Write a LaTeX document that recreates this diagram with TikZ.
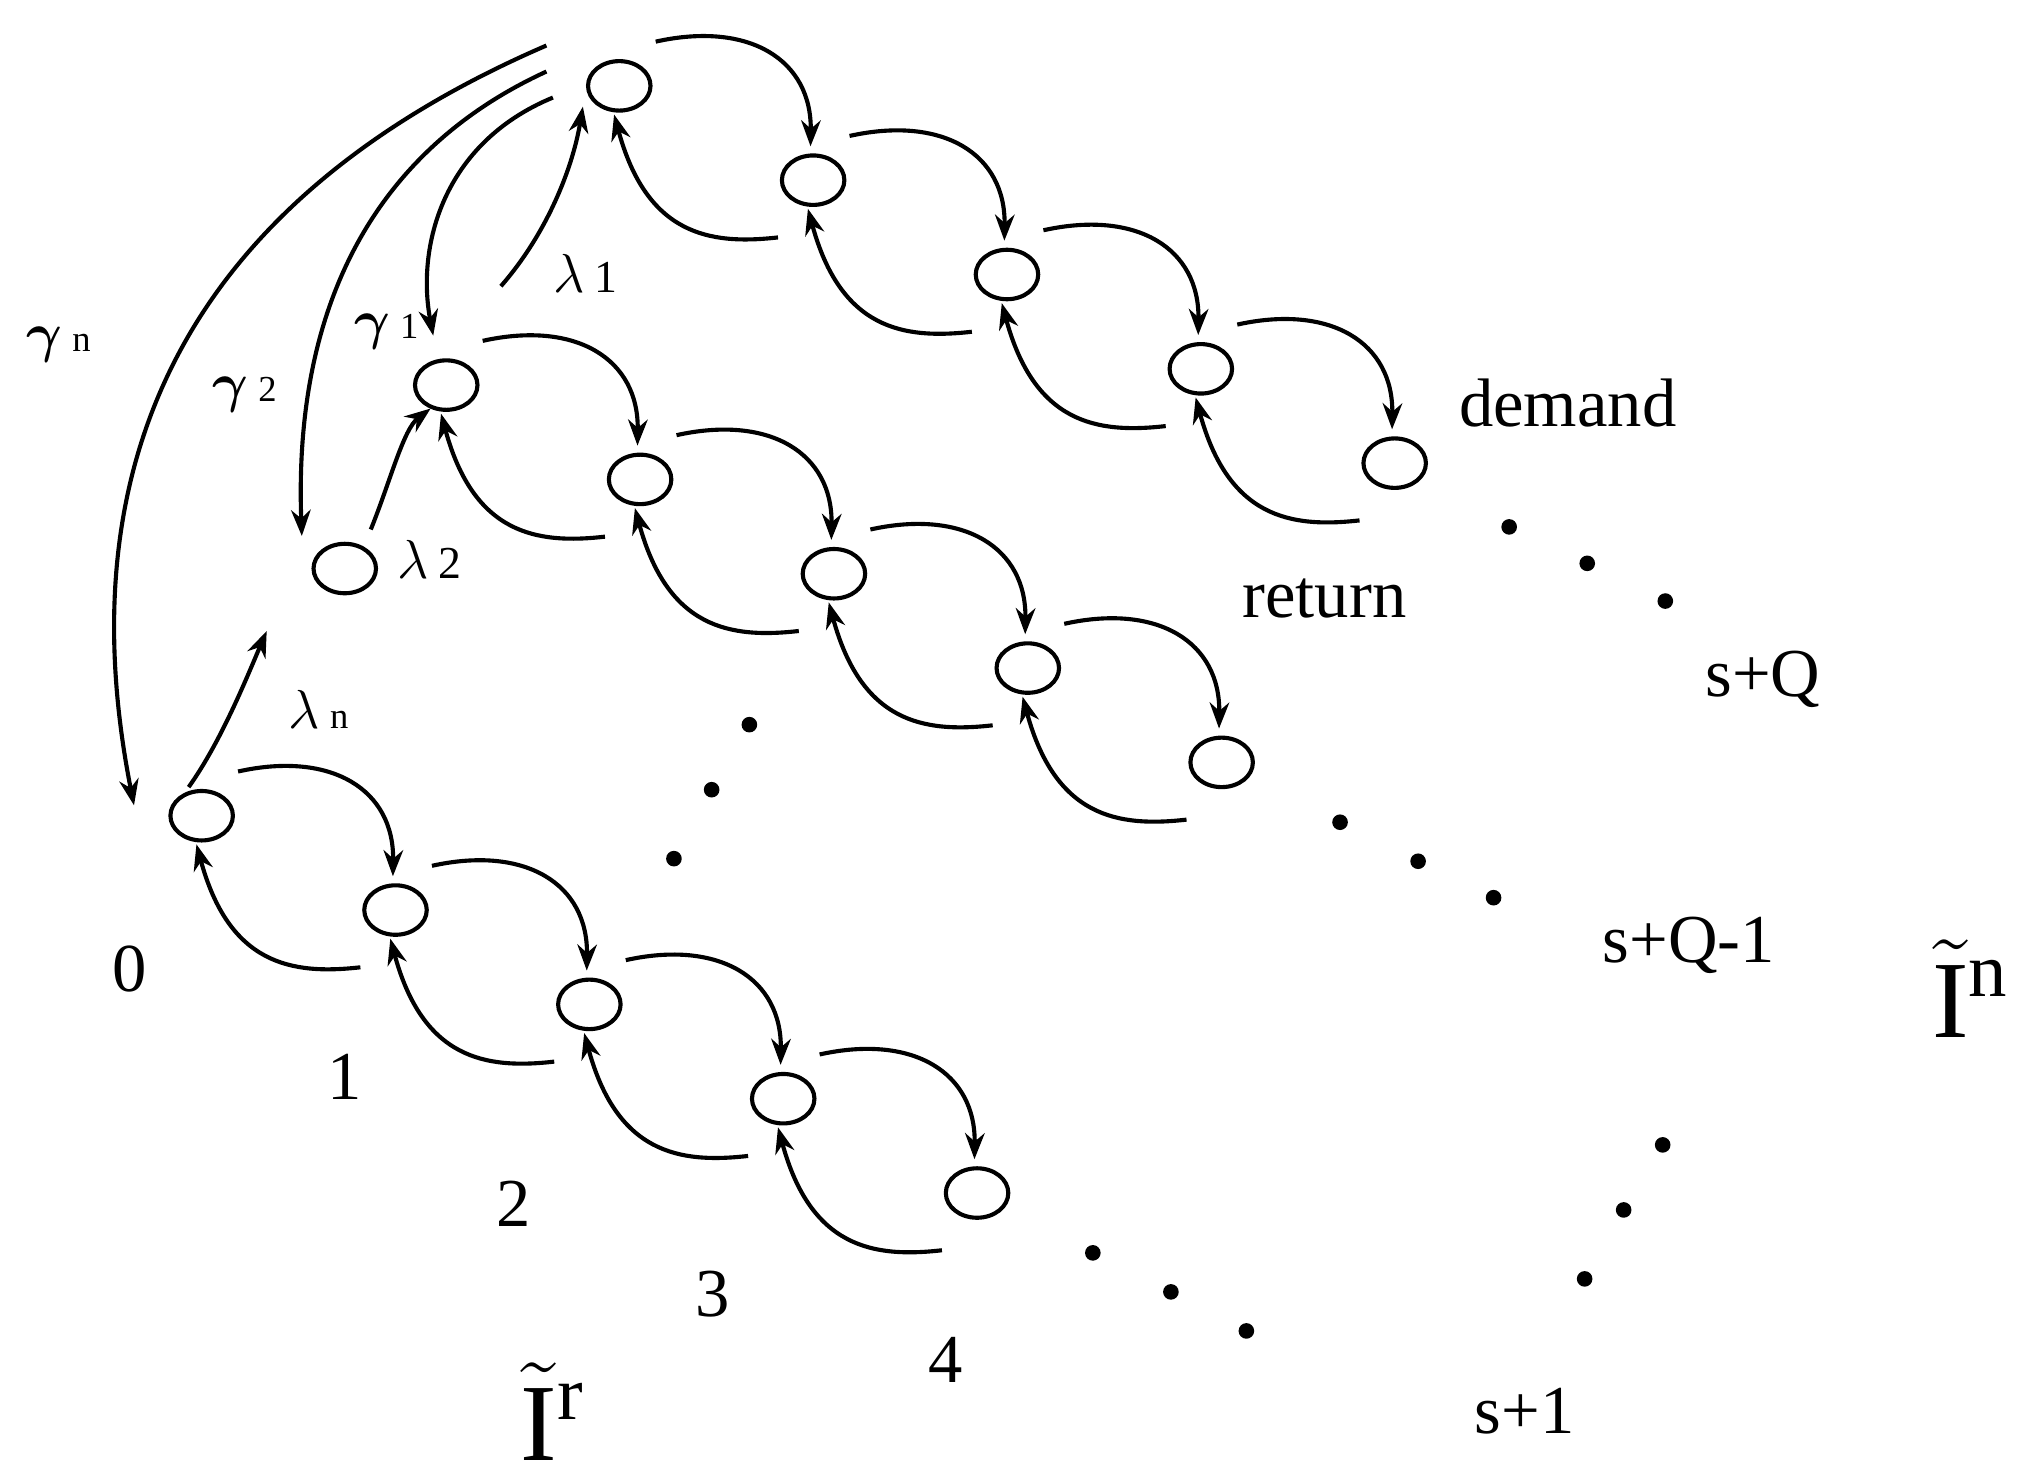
\documentclass[tikz,border=0pt]{standalone}
\usepackage{bm}
\usepackage{fontspec}
\setmainfont{Liberation Serif}
\usetikzlibrary{arrows.meta,calc,shapes.geometric}
\begin{document}
\begin{tikzpicture}[x=0.01cm,y=-0.01cm,
 st/.style={draw,ellipse,minimum width=0.48cm,minimum height=0.38cm,inner sep=0,line width=0.9pt},
 ar/.style={-{Stealth[length=0.2cm,width=0.15cm]},line width=0.9pt},
 dt/.style={fill,circle,inner sep=0,minimum size=0.12cm},
 lb/.style={font=\fontsize{15}{17}\selectfont},
 gl/.style={font=\fontsize{13}{15}\selectfont}]
\useasboundingbox (0,0) rectangle (1568,1137);
\foreach \ch/\x/\y in {c/155/627,b/343/296,a/476/66}{
 \foreach \i in {0,...,4}{
  \node[st] (\ch\i) at ({\x+149*\i},{\y+72.5*\i}) {};
 }
 \foreach \i [evaluate=\i as \j using int(\i+1)] in {0,...,3}{
  \draw[ar] ([shift={(28,-34)}]\ch\i.center) .. controls ([shift={(100,-50)}]\ch\i.center) and ([shift={(148,-20)}]\ch\i.center) .. ([shift={(-2,-26)}]\ch\j.center);
  \draw[ar] ([shift={(-27,44)}]\ch\j.center) .. controls ([shift={(-80,50)}]\ch\j.center) and ([shift={(-128,42)}]\ch\j.center) .. ([shift={(-4,22)}]\ch\i.center);
 }
}
\node[st] (d) at (265,437) {};
% dots
\foreach \p [count=\k] in {(1160,405),(1220,433),(1280,462),(1030,632),(1090,662),(1148,690),(840,963),(900,993),(958,1023),(576,557),(547,607),(518,660),(1278,880),(1248,930),(1218,983)}
 \node[dt] (p\k) at \p {};
% long arrows
\coordinate (g0) at (420,35); \coordinate (g1) at (420,55); \coordinate (g2) at (425,75);
\draw[ar] (g0) .. controls (200,130) and (40,300) .. ([shift={(-52,-8)}]c0.center);
\draw[ar] (g1) .. controls (300,110) and (225,220) .. ([shift={(-33,-25)}]d.center);
\draw[ar] (g2) .. controls (340,110) and (320,190) .. ([shift={(-10,-38)}]b0.center);
\coordinate (l1) at (385,220);
\draw[ar] (l1) .. controls (420,180) and (440,130) .. ([shift={(-28,16)}]a0.center);
\draw[ar] ([shift={(20,-30)}]d.center) .. controls (300,370) and (310,330) .. ([shift={(-12,18)}]b0.center);
\coordinate (ln) at (205,485);
\draw[ar] ([shift={(-10,-22)}]c0.center) .. controls (170,570) and (190,520) .. (ln);
% labels
\node[lb] at (100,745) {0};
\node[lb] at (265,828) {1};
\node[lb] at (395,925) {2};
\node[lb] at (548,995) {3};
\node[lb] at (727,1045) {4};
\node[lb] at (1172,1085) {s+1};
\node[lb] at (1298,727) {s+Q-1};
\node[lb] at (1355,522) {s+Q};
\node[lb] at (1205,310) {demand};
\node[lb] at (1018,460) {return};
\node[font=\fontsize{24}{26}\selectfont] at (425,1085) {$\tilde{\mathrm{I}}^{\mathrm{r}}$};
\node[font=\fontsize{24}{26}\selectfont] at (1515,760) {$\tilde{\mathrm{I}}^{\mathrm{n}}$};
\node[gl] at (45,265) {$\bm\gamma$\,{\fontsize{8}{9}\selectfont n}};
\node[gl] at (188,303) {$\bm\gamma$\,{\fontsize{8}{9}\selectfont 2}};
\node[gl] at (297,255) {$\bm\gamma$\,{\fontsize{8}{9}\selectfont 1}};
\node[gl] at (450,210) {$\lambda$\,{\fontsize{10}{11}\selectfont 1}};
\node[gl] at (330,430) {$\lambda$\,{\fontsize{10}{11}\selectfont 2}};
\node[gl] at (245,545) {$\lambda$\,{\fontsize{8}{9}\selectfont n}};
\end{tikzpicture}
\end{document}
